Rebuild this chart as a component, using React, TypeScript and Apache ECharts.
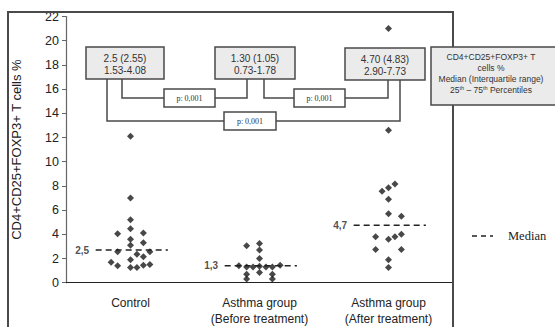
import React, { useEffect, useRef } from "react";
import * as echarts from "echarts";

// ---- data ----
const categories = ["Control", "Asthma group\n(Before treatment)", "Asthma group\n(After treatment)"];
const yTicks = { min: 0, max: 22, interval: 2 };

// values (%) and horizontal jitter (in category widths) of each dot
const controlValues = [12.1, 7.0, 5.2, 4.05, 4.45, 4.1, 3.6, 3.3, 3.1, 2.55, 2.35, 2.55, 1.7, 1.4, 1.9, 2.15, 1.25, 1.25, 1.45, 1.5];
const controlJitter = [0, 0, 0, -0.1, 0, 0.1, 0, 0.1, 0, -0.1, 0.05, 0.15, -0.15, -0.1, 0, 0.1, 0, 0.05, 0.1, 0.15];

const beforeValues = [3.05, 3.25, 2.7, 2.0, 1.4, 1.3, 1.3, 1.35, 1.3, 1.3, 1.45, 0.7, 0.3, 0.85, 0.7, 0.3];
const beforeJitter = [-0.1, 0, 0, 0, -0.16, -0.1, -0.05, 0, 0.05, 0.1, 0.16, -0.1, -0.1, 0, 0.1, 0.1];

const afterValues = [21.0, 12.6, 8.15, 7.85, 7.55, 6.9, 5.7, 5.5, 3.8, 3.6, 3.8, 4.0, 2.75, 2.75, 1.9, 1.25];
const afterJitter = [0, 0, 0.05, 0, -0.05, 0, 0, 0.1, -0.1, 0, 0.05, 0.1, -0.1, 0.1, 0, 0];

const medianLevels = [2.7, 1.4, 4.75];
const medianLabels = ["2,5", "1,3", "4,7"];

const boxTexts = ["2.5 (2.55)\n1.53-4.08", "1.30 (1.05)\n0.73-1.78", "4.70 (4.83)\n2.90-7.73"];
const pTexts = ["p: 0,001", "p: 0,001", "p: 0,001"];
const legendLines = ["CD4+CD25+FOXP3+ T", "cells %", "Median (Interquartile range)"];
const yAxisName = "CD4+CD25+FOXP3+ T cells %";
const medianLegend = "Median";

export default function App() {
  const ref = useRef<HTMLDivElement>(null);
  useEffect(() => {
    const chart = echarts.init(ref.current!, null, { renderer: "svg" });
    const dark = "#222";
    const frame = "#4a4a4a";
    const sans = "Liberation Sans, Arial, sans-serif";
    const serif = "Liberation Serif, Times New Roman, serif";

    const groups = [
      { v: controlValues, j: controlJitter },
      { v: beforeValues, j: beforeJitter },
      { v: afterValues, j: afterJitter },
    ];
    const scatterSeries = groups.map((g, gi) => ({
      type: "scatter",
      xAxisIndex: 1,
      symbol: "diamond",
      symbolSize: 7,
      itemStyle: { color: "#1a1a1a" },
      data: g.v.map((v, i) => [gi + g.j[i], v]),
      z: 3,
    }));
    const medianSeries = medianLevels.map((m, gi) => ({
      type: "line",
      xAxisIndex: 1,
      symbol: "none",
      lineStyle: { type: [6, 4], width: 1.6, color: dark },
      data: [
        [gi - 0.27, m],
        [gi + 0.29, m],
      ],
      z: 2,
    }));
    const medianLabelSeries = {
      type: "scatter",
      xAxisIndex: 1,
      symbolSize: 1,
      itemStyle: { color: "rgba(0,0,0,0)" },
      data: medianLevels.map((m, gi) => ({
        value: [gi - 0.27, m],
        label: {
          show: true,
          position: "left",
          distance: 6,
          formatter: medianLabels[gi],
          fontSize: 10,
          fontWeight: "bold",
          fontFamily: sans,
          color: dark,
        },
      })),
    };

    const boxes = [
      { x: 86, y: 47, w: 78, h: 32 },
      { x: 215, y: 47, w: 80, h: 32 },
      { x: 345, y: 48, w: 80, h: 32 },
    ];
    const pBoxes = [
      { x: 164, y: 89, w: 51, h: 18 },
      { x: 294, y: 89, w: 51, h: 18 },
      { x: 224, y: 112, w: 52, h: 18 },
    ];
    const lineStyle = { stroke: frame, lineWidth: 1.5, fill: null };
    const graphics: any[] = [
      { type: "polyline", shape: { points: [[8, 330], [8, 12], [453, 12], [453, 330]] }, style: { stroke: frame, lineWidth: 2, fill: null }, z: 1 },
      // brackets
      { type: "polyline", shape: { points: [[122, 79], [122, 98], [164, 98]] }, style: lineStyle, z: 5 },
      { type: "polyline", shape: { points: [[215, 98], [247, 98], [247, 79]] }, style: lineStyle, z: 5 },
      { type: "polyline", shape: { points: [[264, 79], [264, 98], [294, 98]] }, style: lineStyle, z: 5 },
      { type: "polyline", shape: { points: [[345, 98], [388, 98], [388, 80]] }, style: lineStyle, z: 5 },
      { type: "polyline", shape: { points: [[107, 79], [107, 121], [224, 121]] }, style: lineStyle, z: 5 },
      { type: "polyline", shape: { points: [[276, 121], [400, 121], [400, 80]] }, style: lineStyle, z: 5 },
    ];
    boxes.forEach((b, i) => {
      graphics.push({ type: "rect", shape: { x: b.x, y: b.y, width: b.w, height: b.h }, style: { fill: "#ebebeb", stroke: frame, lineWidth: 1.5 }, z: 6 });
      graphics.push({
        type: "text",
        x: b.x + b.w / 2,
        y: b.y + b.h / 2 + 1,
        style: { text: boxTexts[i], fontSize: 10, fontFamily: sans, fill: "#333", align: "center", verticalAlign: "middle", lineHeight: 12 },
        z: 7,
      });
    });
    pBoxes.forEach((b, i) => {
      graphics.push({ type: "rect", shape: { x: b.x, y: b.y, width: b.w, height: b.h }, style: { fill: "#fff", stroke: frame, lineWidth: 1.5 }, z: 6 });
      graphics.push({
        type: "text",
        x: b.x + b.w / 2,
        y: b.y + b.h / 2 + 0.5,
        style: { text: pTexts[i], fontSize: 8, fontFamily: serif, fill: "#333", align: "center", verticalAlign: "middle" },
        z: 7,
      });
    });
    // legend box
    graphics.push({ type: "rect", shape: { x: 431, y: 47, width: 130, height: 58 }, style: { fill: "#ebebeb", stroke: frame, lineWidth: 1.5 }, z: 6 });
    legendLines.forEach((t, i) => {
      graphics.push({
        type: "text",
        x: 491,
        y: 57 + i * 11,
        style: { text: t, fontSize: 8.5, fontFamily: sans, fill: "#333", align: "center", verticalAlign: "middle" },
        z: 7,
      });
    });
    graphics.push({
      type: "text",
      x: 491,
      y: 90,
      style: {
        text: "25{s|th} – 75{s|th} Percentiles",
        fontSize: 8.5,
        fontFamily: sans,
        fill: "#333",
        align: "center",
        verticalAlign: "middle",
        rich: { s: { fontSize: 5.5, fontFamily: sans, fill: "#333", padding: [0, 0, 5, 0] } },
      },
      z: 7,
    });
    // median legend
    graphics.push({ type: "line", shape: { x1: 472, y1: 236, x2: 493, y2: 236 }, style: { stroke: dark, lineWidth: 1.6, lineDash: [5, 4] }, z: 5 });
    graphics.push({
      type: "text",
      x: 508,
      y: 236,
      style: { text: medianLegend, fontSize: 12.5, fontFamily: serif, fill: "#222", verticalAlign: "middle" },
      z: 5,
    });

    chart.setOption({
      animation: false,
      grid: { left: 66, right: 102, top: 16.5, bottom: 44.3 },
      xAxis: [
        {
          type: "category",
          data: categories,
          axisLine: { lineStyle: { color: dark, width: 1.2 } },
          axisTick: { length: 4, lineStyle: { color: "#666" } },
          axisLabel: { fontSize: 12, color: "#222", fontFamily: sans, lineHeight: 16, margin: 12 },
        },
        { type: "value", min: -0.5, max: 2.5, show: false },
      ],
      yAxis: {
        type: "value",
        min: yTicks.min,
        max: yTicks.max,
        interval: yTicks.interval,
        name: yAxisName,
        nameLocation: "middle",
        nameGap: 43,
        nameTextStyle: { fontSize: 13, fontFamily: sans, color: "#222" },
        axisLine: { show: true, onZero: false, lineStyle: { color: "#666", width: 1.2 } },
        axisTick: { show: true, length: 4, lineStyle: { color: "#666" } },
        axisLabel: { fontSize: 12.5, color: "#222", fontFamily: sans, margin: 7 },
        splitLine: { show: false },
      },
      series: [...scatterSeries, ...medianSeries, medianLabelSeries],
      graphic: graphics,
    });
    return () => chart.dispose();
  }, []);
  return <div ref={ref} style={{ position: "absolute", left: 0, top: 0, width: 555, height: 327 }} />;
}
